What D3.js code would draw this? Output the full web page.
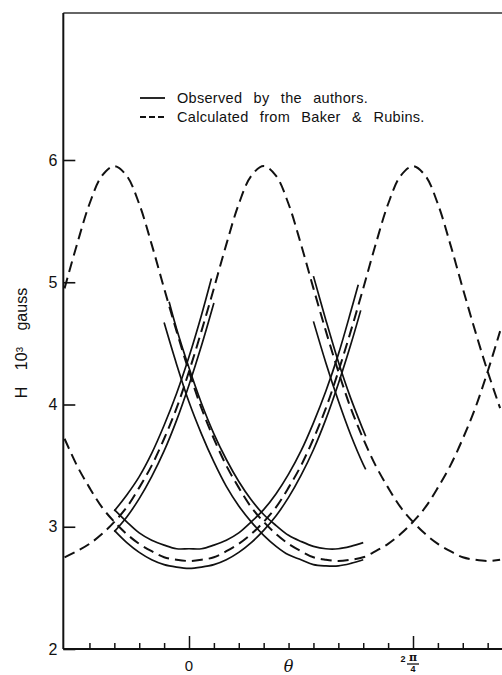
<!DOCTYPE html>
<html>
<head>
<meta charset="utf-8">
<script src="https://cdn.jsdelivr.net/npm/d3@7"></script>
<style>
  body { margin: 0; background: #fff; }
  svg { display: block; }
  text { font-family: "Liberation Sans", Arial, sans-serif; fill: #111; }
</style>
</head>
<body>
<div class="chart"></div>
<script>
// calculated curves (Baker & Rubins), H in 10^3 gauss
const calcTheta = [-50,-45,-40,-35,-30,-25,-20,-15,-10,-5,0,5,10,15,20,25,30,35,40,45,50,55,60,65,70,75,80,85,90,95,100,105,110,115,120,125];
const calcA = [4.95,5.31,5.64,5.87,5.95,5.87,5.64,5.31,4.95,4.60,4.27,3.97,3.72,3.50,3.32,3.16,3.04,2.94,2.86,2.80,2.75,2.73,2.72,2.73,2.75,2.80,2.86,2.94,3.04,3.16,3.32,3.50,3.72,3.97,4.27,4.60];
const calcB = [2.75,2.80,2.86,2.94,3.04,3.16,3.32,3.50,3.72,3.97,4.27,4.60,4.95,5.31,5.64,5.87,5.95,5.87,5.64,5.31,4.95,4.60,4.27,3.97,3.72,3.50,3.32,3.16,3.04,2.94,2.86,2.80,2.75,2.73,2.72,2.73];
const calcC = [3.72,3.50,3.32,3.16,3.04,2.94,2.86,2.80,2.75,2.73,2.72,2.73,2.75,2.80,2.86,2.94,3.04,3.16,3.32,3.50,3.72,3.97,4.27,4.60,4.95,5.31,5.64,5.87,5.95,5.87,5.64,5.31,4.95,4.60,4.27,3.97];

// observed curves (pairs of lines)
const obsAHiTheta = [-8,-5,0,5,10,15,20,25,30,35,40,45,50,55,60,65,70];
const obsAHi = [4.84,4.62,4.30,4.01,3.76,3.55,3.37,3.22,3.10,3.01,2.93,2.88,2.84,2.82,2.82,2.84,2.87];
const obsALoTheta = [-10,-5,0,5,10,15,20,25,30,35,40,45,50,55,60,65,70];
const obsALo = [4.67,4.33,4.02,3.76,3.53,3.33,3.17,3.04,2.93,2.84,2.77,2.73,2.69,2.68,2.68,2.70,2.73];
const obsCHiTheta = [-30,-25,-20,-15,-10,-5,0,5,10,15,20,25,30,35,40,45,50,55,60,65,68];
const obsCHi = [3.14,3.04,2.95,2.89,2.85,2.82,2.82,2.82,2.85,2.89,2.95,3.04,3.14,3.27,3.43,3.62,3.85,4.11,4.41,4.76,4.98];
const obsCLoTheta = [-30,-25,-20,-15,-10,-5,0,5,10,15,20,25,30,35,40,45,50,55,60,65,69];
const obsCLo = [2.97,2.87,2.79,2.73,2.69,2.67,2.66,2.67,2.69,2.73,2.79,2.87,2.97,3.09,3.24,3.42,3.63,3.88,4.17,4.49,4.77];
const obsBLHiTheta = [-30,-25,-20,-15,-10,-5,0,5,9];
const obsBLHi = [3.13,3.26,3.41,3.60,3.83,4.09,4.39,4.73,5.03];
const obsBLLoTheta = [-30,-25,-20,-15,-10,-5,0,5,10];
const obsBLLo = [2.96,3.08,3.23,3.41,3.62,3.87,4.16,4.48,4.83];
const obsBRHiTheta = [50,55,60,65,70,71];
const obsBRHi = [5.05,4.69,4.35,4.05,3.79,3.74];
const obsBRLoTheta = [50,55,60,65,70,71];
const obsBRLo = [4.68,4.34,4.03,3.75,3.51,3.47];

// axis ticks (degrees) and labels
const yTicks = [2, 3, 4, 5, 6];
const minorTicks = [-40,-30,-20,-10,10,20,30,40,50,60,70,80,100,110,120];
const majorTicks = [0, 90];
const legendItems = ["Observed by the authors.", "Calculated from Baker & Rubins."];

const width = 502, height = 675;

const svg = d3.select('.chart')
    .append('svg')
    .attr('width', width)
    .attr('height', height);

const xScale = d3.scaleLinear()
    .domain([0, 90])
    .range([189, 413]);

const yScale = d3.scaleLinear()
    .domain([2, 6])
    .range([649, 160]);

const plotLeft = xScale(-50.5);
const plotTop = 13;
const plotBottom = yScale(2);

svg.append('clipPath')
    .attr('id', 'plotClip')
    .append('rect')
    .attr('x', plotLeft)
    .attr('y', plotTop)
    .attr('width', width - plotLeft)
    .attr('height', plotBottom - plotTop);

const line = d3.line()
    .x(d => xScale(d[0]))
    .y(d => yScale(d[1]))
    .curve(d3.curveCatmullRom);

const zip = (t, h) => t.map((v, i) => [v, h[i]]);

const plot = svg.append('g').attr('clip-path', 'url(#plotClip)');

// dashed: calculated
[calcA, calcB, calcC].forEach(h => {
    plot.append('path')
        .datum(zip(calcTheta, h))
        .attr('d', line)
        .attr('fill', 'none')
        .attr('stroke', '#111')
        .attr('stroke-width', 2)
        .attr('stroke-dasharray', '11,6');
});

// solid: observed
const observed = [
    zip(obsAHiTheta, obsAHi), zip(obsALoTheta, obsALo),
    zip(obsCHiTheta, obsCHi), zip(obsCLoTheta, obsCLo),
    zip(obsBLHiTheta, obsBLHi), zip(obsBLLoTheta, obsBLLo),
    zip(obsBRHiTheta, obsBRHi), zip(obsBRLoTheta, obsBRLo)
];
plot.selectAll('.obs')
    .data(observed)
    .enter()
    .append('path')
    .attr('class', 'obs')
    .attr('d', line)
    .attr('fill', 'none')
    .attr('stroke', '#111')
    .attr('stroke-width', 1.7);

// frame top line
svg.append('line')
    .attr('x1', plotLeft).attr('x2', width)
    .attr('y1', plotTop).attr('y2', plotTop)
    .attr('stroke', '#333')
    .attr('stroke-width', 1.3);

// y axis, ticks pointing inward
const yAxis = d3.axisLeft(yScale)
    .tickValues(yTicks)
    .tickSize(-12)
    .tickPadding(6)
    .tickFormat(d3.format('d'));

const yg = svg.append('g')
    .attr('transform', `translate(${plotLeft},0)`)
    .call(yAxis);
yg.select('.domain').remove();
yg.selectAll('line').attr('stroke', '#111').attr('stroke-width', 1.6);
yg.selectAll('text')
    .style('font-size', '16px')
    .style('font-family', '"Liberation Sans", Arial, sans-serif')
    .attr('fill', '#111');

svg.append('line')
    .attr('x1', plotLeft).attr('x2', plotLeft)
    .attr('y1', plotTop).attr('y2', plotBottom)
    .attr('stroke', '#111')
    .attr('stroke-width', 2);

// x axis
const xMinor = d3.axisBottom(xScale).tickValues(minorTicks).tickSize(-6).tickFormat('');
const xMajor = d3.axisBottom(xScale).tickValues(majorTicks).tickSize(-13).tickFormat('');

[xMinor, xMajor].forEach(ax => {
    const g = svg.append('g')
        .attr('transform', `translate(0,${plotBottom})`)
        .call(ax);
    g.select('.domain').remove();
    g.selectAll('line').attr('stroke', '#111').attr('stroke-width', 1.5);
});

svg.append('line')
    .attr('x1', plotLeft).attr('x2', width)
    .attr('y1', plotBottom).attr('y2', plotBottom)
    .attr('stroke', '#111')
    .attr('stroke-width', 2);

svg.append('text')
    .attr('x', xScale(0))
    .attr('y', 671)
    .attr('text-anchor', 'middle')
    .style('font-size', '15px')
    .text('0');

svg.append('text')
    .attr('x', xScale(40))
    .attr('y', 672)
    .attr('text-anchor', 'middle')
    .style('font-size', '16px')
    .style('font-style', 'italic')
    .style('font-family', '"DejaVu Serif", serif')
    .text('θ');

// 2 pi / 4 label
const fx = xScale(90);
svg.append('text')
    .attr('x', fx - 10).attr('y', 662)
    .attr('text-anchor', 'middle')
    .style('font-size', '9px').style('font-weight', 'bold')
    .text('2');
svg.append('text')
    .attr('x', fx).attr('y', 661)
    .attr('text-anchor', 'middle')
    .style('font-size', '11px').style('font-weight', 'bold')
    .style('font-family', '"DejaVu Serif", serif')
    .text('π');
svg.append('line')
    .attr('x1', fx - 6).attr('x2', fx + 6)
    .attr('y1', 664).attr('y2', 664)
    .attr('stroke', '#111').attr('stroke-width', 1.3);
svg.append('text')
    .attr('x', fx).attr('y', 672)
    .attr('text-anchor', 'middle')
    .style('font-size', '9px').style('font-weight', 'bold')
    .text('4');

// y label
svg.append('text')
    .attr('transform', 'translate(27,343) rotate(-90)')
    .attr('text-anchor', 'middle')
    .style('font-size', '16px')
    .style('word-spacing', '12px')
    .text('H 10³ gauss');

// legend
const legend = svg.append('g');
legend.selectAll('line')
    .data(legendItems)
    .enter()
    .append('line')
    .attr('x1', 140).attr('x2', 165)
    .attr('y1', (d, i) => 98 + i * 19)
    .attr('y2', (d, i) => 98 + i * 19)
    .attr('stroke', '#111')
    .attr('stroke-width', 1.8)
    .attr('stroke-dasharray', (d, i) => i === 0 ? null : '6,3');

legend.selectAll('text')
    .data(legendItems)
    .enter()
    .append('text')
    .attr('x', 177)
    .attr('y', (d, i) => 103 + i * 19)
    .style('font-size', '14.5px')
    .style('letter-spacing', '0.3px')
    .style('word-spacing', '7px')
    .text(d => d);
</script>
</body>
</html>
